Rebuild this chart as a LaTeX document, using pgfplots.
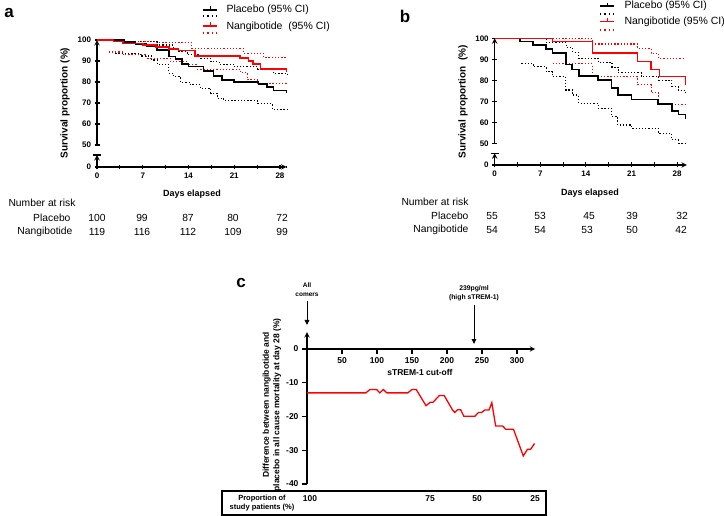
\documentclass[border=0pt]{standalone}
\usepackage{fontspec}
\setmainfont{Liberation Sans}
\usepackage{pgfplots}
\pgfplotsset{compat=1.18}
\usetikzlibrary{arrows.meta}

\pgfplotsset{
  km/.style={scale only axis, anchor=south west, clip=false,
    axis line style={line width=1.4pt,-},
    every tick/.style={line width=1.1pt, black},
    tick align=outside,
    major tick length=5pt,
    minor tick length=2pt,
    /pgf/number format/assume math mode=true,
    ticklabel style={font=\bfseries\fontsize{8}{8}\selectfont},
  },
  pl/.style={black, line width=1.6pt, const plot},
  pr/.style={red, line width=1.6pt, const plot},
  cl/.style={black, line width=1.1pt, dash pattern=on 1.3pt off 1.9pt, const plot},
  cr/.style={red, line width=1.1pt, dash pattern=on 1.3pt off 1.9pt, const plot},
}
\newcommand{\rsk}{\fontsize{10.3}{10.3}\selectfont}

\begin{document}
\begin{tikzpicture}
\useasboundingbox (0,0) rectangle (724pt,-516pt);

% ---------------- panel a ----------------
\node[font=\bfseries\fontsize{17}{17}\selectfont] at (9pt,-13pt) {a};
\begin{axis}[km, at={(97pt,-145pt)}, width=189.5pt, height=105pt,
  xmin=0, xmax=29, ymin=50, ymax=100,
  axis x line=none, axis y line=left, ytick={50,60,...,100}]
\addplot[cl] coordinates {(6.6,99.2)(9.2,97.6)(11.7,96)(12.5,94.5)(13.8,92.9)(15.8,91.3)(17.4,89.7)(18.7,88.5)(21,87.3)(24.6,86.1)(27,84.2)(29.1,83.5)};
\addplot[cl] coordinates {(2.8,93.7)(6.6,92.4)(8.4,90.5)(9.2,88.5)(11,84.2)(11.7,82.6)(12.8,79.8)(14.3,78.6)(15.8,77)(17.4,74.7)(18.4,72.3)(19.4,71.2)(24.5,69.9)(26.8,67.1)(29.1,66.5)};
\addplot[cr] coordinates {(2.5,100)(4,99.5)(9,98.9)(14.5,96)(22.4,93.7)(25.5,91.6)(29,91.6)};
\addplot[cr] coordinates {(1.8,94.3)(4,92.9)(7.6,91.3)(11.2,89.8)(13.8,88.3)(15.3,86.1)(21.9,84.5)(23,81)(24.5,79.3)(29,79.3)};
\addplot[pl] coordinates {(0,100)(4.1,99)(5.9,98)(7.6,97)(9.2,95.2)(11,92.1)(12,91)(13,88.5)(14,87.3)(16.3,85.2)(17.8,82.9)(19.1,81)(21,80)(24.7,79)(26,77.5)(27,76)(29,75)};
\addplot[pr] coordinates {(0,100)(2.5,99.2)(4,98.3)(7,97.5)(9,96.6)(11,95.8)(12.5,95)(15,92.4)(21.9,91.3)(23.2,90)(23.9,88.5)(25,86.3)(29,85)};
\end{axis}
\begin{axis}[km, at={(97pt,-167pt)}, width=189.5pt, height=12pt,
  xmin=0, xmax=29, ymin=0, ymax=5.7,
  axis x line=bottom, axis y line=left, ytick={0},
  xtick={0,7,...,28}, extra x ticks={3.5,10.5,17.5,24.5}, extra x tick labels={},
  minor xtick={1,...,29}]
\draw[line width=1.4pt] (axis cs:0,5.7) ++(-4pt,0) -- ++(8pt,0);
\end{axis}
\node[rotate=90, font=\bfseries\fontsize{10}{10}\selectfont] at (65pt,-103pt) {Survival proportion (\%)};
\node[font=\bfseries\fontsize{9}{9}\selectfont] at (192pt,-194pt) {Days elapsed};
\node[anchor=west, font=\rsk] at (5pt,-203pt) {Number at risk};
\node[anchor=east, font=\rsk] at (74pt,-218pt) {Placebo};
\node[anchor=east, font=\rsk] at (76pt,-232pt) {Nangibotide};
\foreach \x/\v in {97/100,142/99,188/87,233/80,282/72}
  \node[font=\rsk] at (\x pt,-218pt) {\v};
\foreach \x/\v in {97/119,142/116,188/112,233/109,282/99}
  \node[font=\rsk] at (\x pt,-232pt) {\v};
% legend a
\draw[line width=1.5pt] (203pt,-10pt) -- (217pt,-10pt);
\draw[line width=1pt] (210pt,-10pt) -- (210pt,-6pt);
\draw[black, line width=1.3pt, dash pattern=on 1.3pt off 3pt] (203pt,-16pt) -- (218pt,-16pt);
\draw[red, line width=1.5pt] (203pt,-26pt) -- (217pt,-26pt);
\draw[red, line width=1pt] (210pt,-26pt) -- (210pt,-22pt);
\draw[red, line width=1.3pt, dash pattern=on 1.3pt off 3pt] (203pt,-33pt) -- (218pt,-33pt);
\node[anchor=west, font=\fontsize{10.5}{10.5}\selectfont] at (223pt,-10pt) {Placebo (95\% CI)};
\node[anchor=west, font=\fontsize{10.5}{10.5}\selectfont] at (223pt,-26.5pt) {Nangibotide\ \ (95\% CI)};

% ---------------- panel b ----------------
\node[font=\bfseries\fontsize{17}{17}\selectfont] at (405pt,-16pt) {b};
\begin{axis}[km, at={(494.7pt,-143.3pt)}, width=192.2pt, height=105pt,
  xmin=0, xmax=29.5, ymin=50, ymax=100,
  axis x line=none, axis y line=left, ytick={50,60,...,100}]
\addplot[cl] coordinates {(4,99.7)(7.9,97.9)(11,95.7)(12,93.3)(12.9,90.5)(15.9,88.6)(18,86.3)(19,83.6)(22.5,81.6)(25.2,80.1)(27.2,77)(28.2,75.2)(29.3,74.5)};
\addplot[cl] coordinates {(4.1,88.1)(5.9,86.5)(7.9,84.1)(8.9,81.8)(10.9,75.4)(11.9,73)(12.9,69)(15.9,66.7)(17.9,62.7)(18.9,58.7)(21,57.1)(25.1,54.8)(27.2,51.6)(28.2,50)(29.3,50)};
\addplot[cr] coordinates {(8.9,100)(15,97.3)(21.9,95.2)(24,92.9)(25.2,90.2)(29.3,90.2)};
\addplot[cr] coordinates {(8.9,87.8)(15,81.8)(21.9,77.9)(24,74)(25.2,68.3)(29.3,68.3)};
\addplot[pl] coordinates {(0,100)(3.9,98.4)(5.9,96.8)(7.9,94.9)(8.9,92.9)(10.9,87.6)(11.9,85.2)(12.9,82)(15.9,80.1)(17.9,76.2)(18.9,73)(21,70.9)(25.1,68.7)(27.2,65.4)(28.2,63.8)(29.3,61.4)};
\addplot[pr] coordinates {(0,100)(8.9,98.4)(15,92.9)(21.9,89)(24,85.2)(25.3,81.8)(29.3,77.9)};
\end{axis}
\begin{axis}[km, at={(494.7pt,-165pt)}, width=192.2pt, height=11.7pt,
  xmin=0, xmax=29.5, ymin=0, ymax=5.7,
  axis x line=bottom, axis y line=left, ytick={0},
  xtick={0,7,...,28}, extra x ticks={3.5,10.5,17.5,24.5}, extra x tick labels={},
  minor xtick={1,...,29}]
\draw[line width=1.4pt] (axis cs:0,5.7) ++(-4pt,0) -- ++(8pt,0);
\end{axis}
\node[rotate=90, font=\bfseries\fontsize{10}{10}\selectfont] at (463pt,-102pt) {Survival proportion\ \ (\%)};
\node[font=\bfseries\fontsize{9}{9}\selectfont] at (590pt,-193pt) {Days elapsed};
\node[anchor=east, font=\rsk] at (472pt,-202pt) {Number at risk};
\node[anchor=east, font=\rsk] at (472pt,-216pt) {Placebo};
\node[anchor=east, font=\rsk] at (472pt,-230pt) {Nangibotide};
\foreach \x/\v in {492/55,540/53,589/45,632/39,682/32}
  \node[font=\rsk] at (\x pt,-216pt) {\v};
\foreach \x/\v in {492/54,540/54,587/53,632/50,681/42}
  \node[font=\rsk] at (\x pt,-230pt) {\v};
% legend b
\draw[line width=1.5pt] (600pt,-6pt) -- (614pt,-6pt);
\draw[line width=1pt] (607pt,-6pt) -- (607pt,-3pt);
\draw[black, line width=1.3pt, dash pattern=on 1.3pt off 3pt] (600pt,-14pt) -- (615pt,-14pt);
\draw[red, line width=1.5pt] (600pt,-21.7pt) -- (614pt,-21.7pt);
\draw[red, line width=1pt] (607pt,-21.7pt) -- (607pt,-18.5pt);
\draw[red, line width=1.3pt, dash pattern=on 1.3pt off 3pt] (600pt,-30pt) -- (615pt,-30pt);
\node[anchor=west, font=\fontsize{10.5}{10.5}\selectfont] at (621pt,-6pt) {Placebo (95\% CI)};
\node[anchor=west, font=\fontsize{10.5}{10.5}\selectfont] at (621pt,-21.7pt) {Nangibotide (95\% CI)};

% ---------------- panel c ----------------
\node[font=\bfseries\fontsize{17}{17}\selectfont] at (241pt,-283pt) {c};
\begin{axis}[km, at={(307pt,-484pt)}, width=228.2pt, height=151.9pt,
  xmin=0, xmax=326, ymin=-40, ymax=5,
  axis x line=middle, axis y line=left, tick align=outside,
  hide obscured x ticks=false, hide obscured y ticks=false,
  xtick={50,100,...,300}, ytick={-40,-30,...,0},
  yticklabels={-40,-30,-20,-10,0},
  ticklabel style={font=\bfseries\fontsize{8.5}{8.5}\selectfont}]
\addplot[red, line width=1.3pt] coordinates {(0,-13)(84,-13)(90,-12)(99.5,-12)(104,-13)(109,-12)(114,-13)(144,-13)(150,-12)(156,-12)(170,-16.8)(176,-15.8)(180,-15.8)(189,-13.8)(196,-13.8)(208,-18.1)(211,-18.8)(215,-18)(219.5,-18)(224,-19.9)(240,-19.9)(245,-18.8)(249.5,-18.8)(254,-18.1)(260,-18.1)(264,-15.9)(269.5,-22.8)(279.5,-22.8)(284,-23.8)(295,-23.8)(309,-31.7)(315,-29.7)(319.5,-29.7)(325,-28)};
\end{axis}
\node[font=\bfseries\fontsize{8.5}{8.5}\selectfont] at (420pt,-372pt) {sTREM-1 cut-off};
\node[rotate=90, align=center, font=\bfseries\fontsize{8.5}{10.5}\selectfont] at (272pt,-405pt) {Difference between nangibotide and\\placebo in all cause mortality at day 28 (\%)};
\node[align=center, font=\bfseries\fontsize{6.5}{9}\selectfont] at (307pt,-290pt) {All\\comers};
\draw[line width=1pt, -{Triangle[length=5pt,width=4.5pt]}] (307pt,-301pt) -- (307pt,-325pt);
\node[align=center, font=\bfseries\fontsize{6.8}{9}\selectfont] at (474pt,-293pt) {239pg/ml\\(high sTREM-1)};
\draw[line width=1pt, -{Triangle[length=5pt,width=4.5pt]}] (474pt,-305pt) -- (474pt,-344pt);
% proportion strip
\draw[line width=1.3pt] (222pt,-491pt) rectangle (546pt,-515pt);
\node[align=center, font=\bfseries\fontsize{7.5}{9}\selectfont] at (262pt,-503pt) {Proportion of\\study patients (\%)};
\foreach \x/\v in {310/100,430/75,477/50,535/25}
  \node[font=\bfseries\fontsize{8.5}{8.5}\selectfont] at (\x pt,-499pt) {\v};
\end{tikzpicture}
\end{document}
